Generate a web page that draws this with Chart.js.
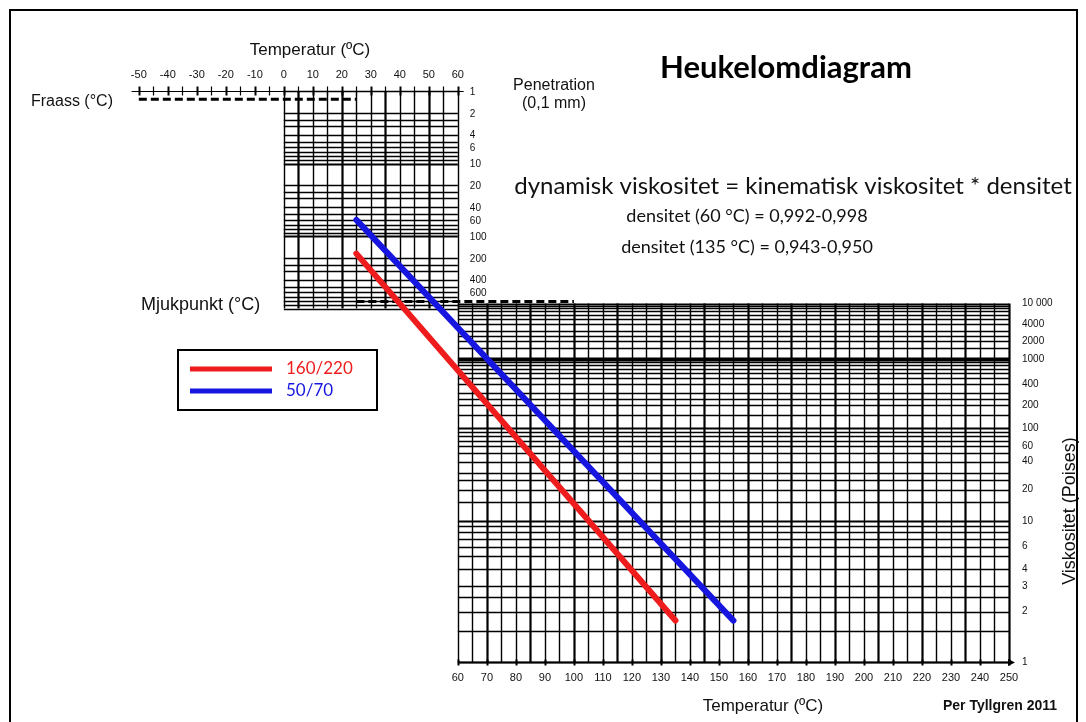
<!DOCTYPE html>
<html>
<head>
<meta charset="utf-8">
<title>Heukelomdiagram</title>
<script src="https://cdn.jsdelivr.net/npm/chart.js@4.4.1/dist/chart.umd.min.js"></script>
<style>
  html, body { margin: 0; padding: 0; background: #fff; }
  canvas { display: block; }
</style>
</head>
<body>
<canvas id="chart" width="1086" height="722"></canvas>
<script>
// bitumen grades drawn in the diagram
const grades = ["160/220", "50/70"];
const gradeColors = ["#ee1c1c", "#1616e0"];
const startTemp = [25, 25];      // °C, start point read on the penetration grid
const startPen = [175, 60];      // penetration (0,1 mm) at 25 °C
const endTemp = [135, 155];      // °C, end point read on the viscosity grid
const endVisc = [1.75, 1.75];    // Poises

// tick labels
const topTempTicks = [-50, -40, -30, -20, -10, 0, 10, 20, 30, 40, 50, 60];
const bottomTempTicks = [60, 70, 80, 90, 100, 110, 120, 130, 140, 150, 160, 170, 180, 190, 200, 210, 220, 230, 240, 250];
const penTicks = [1, 2, 4, 6, 10, 20, 40, 60, 100, 200, 400, 600];
const viscTicks = [1, 2, 3, 4, 6, 10, 20, 40, 60, 100, 200, 400, 1000, 2000, 4000, 10000];
const viscTickLabels = ["1", "2", "3", "4", "6", "10", "20", "40", "60", "100", "200", "400", "1000", "2000", "4000", "10 000"];

// grid lines inside each decade
const penSteps = [1, 2, 2.5, 3, 4, 5, 6, 7, 8, 9];
const viscSteps = [1, 1.5, 2, 2.5, 3, 4, 5, 6, 7, 8, 9];
const penDecades = [1, 10, 100];
const viscDecades = [1, 10, 100, 1000];

// dashed reference lines
const fraassTemp = [-50, 25];
const fraassPen = 1.3;
const mjukTemp = [25, 100];
const mjukPen = 800;

const ARIAL = "'Liberation Sans', Arial, sans-serif";
const CAL = "Lato, 'Open Sans', sans-serif";

// viscosity axis of the Heukelom chart: linear in log(log(v) + 1.5)
function hk(v) {
  return Math.log10(Math.log10(v) + 1.5);
}

function line(ctx, x1, y1, x2, y2, w) {
  ctx.lineWidth = w;
  ctx.beginPath();
  ctx.moveTo(x1, y1);
  ctx.lineTo(x2, y2);
  ctx.stroke();
}

const snap = p => Math.round(p) + 0.5;

const heukelomPlugin = {
  id: 'heukelom',
  beforeDraw(chart) {
    const { ctx, width, height } = chart;
    ctx.save();
    ctx.fillStyle = '#fff';
    ctx.fillRect(0, 0, width, height);
    ctx.restore();
  },
  beforeDatasetsDraw(chart) {
    const { ctx, scales: { x, yP, yV } } = chart;
    ctx.save();
    ctx.strokeStyle = '#000';
    ctx.fillStyle = '#000';

    // penetration grid (0-60 °C)
    const pTop = yP.getPixelForValue(1), pBot = yP.getPixelForValue(1000);
    for (let t = 0; t <= 60; t += 5) {
      const px = snap(x.getPixelForValue(t));
      line(ctx, px, pTop, px, pBot, t % 15 === 5 ? 2.2 : 1.4);
    }
    penDecades.forEach(d => penSteps.forEach(s => {
      const py = snap(yP.getPixelForValue(d * s));
      line(ctx, x.getPixelForValue(0), py, x.getPixelForValue(60), py, s === 1 && d > 1 ? 2.2 : 1.3);
    }));
    const pb = snap(pBot);
    line(ctx, x.getPixelForValue(0), pb, x.getPixelForValue(60), pb, 1.4);

    // top temperature axis
    const ta = snap(pTop);
    line(ctx, x.getPixelForValue(-52.5), ta, x.getPixelForValue(62), ta, 1.2);
    for (let t = -50; t <= 60; t += 5) {
      const px = snap(x.getPixelForValue(t));
      line(ctx, px, ta - 5, px, ta + 4, t % 10 === 0 ? 2 : 1.2);
    }

    // viscosity grid (60-250 °C)
    const vTop = yV.getPixelForValue(hk(10000)), vBot = yV.getPixelForValue(hk(1));
    for (let t = 60; t <= 250; t += 5) {
      const px = snap(x.getPixelForValue(t));
      line(ctx, px, vTop, px, vBot, t % 15 === 10 ? 2.2 : 1.4);
    }
    viscDecades.forEach(d => viscSteps.forEach(s => {
      const py = snap(yV.getPixelForValue(hk(d * s)));
      let w = 1.3;
      if (d * s === 1000) w = 4;
      else if (s === 1 && d > 1) w = 2.2;
      line(ctx, x.getPixelForValue(60), py, x.getPixelForValue(250), py, w);
    }));
    const vt = snap(vTop);
    line(ctx, x.getPixelForValue(60), vt, x.getPixelForValue(250), vt, 2);

    // bottom temperature axis with arrow
    const ba = snap(vBot);
    const bx0 = x.getPixelForValue(60), bx1 = x.getPixelForValue(250);
    line(ctx, bx0, ba, bx1 + 2, ba, 2);
    ctx.beginPath();
    ctx.moveTo(bx1 + 6, ba);
    ctx.lineTo(bx1 - 1, ba - 3.5);
    ctx.lineTo(bx1 - 1, ba + 3.5);
    ctx.closePath();
    ctx.fill();
    bottomTempTicks.forEach(t => {
      const px = snap(x.getPixelForValue(t));
      line(ctx, px, ba - 3, px, ba + 3, 2);
    });

    // Fraass and softening point dashed lines
    ctx.setLineDash([8, 4]);
    const fy = yP.getPixelForValue(fraassPen);
    line(ctx, x.getPixelForValue(fraassTemp[0]), fy, x.getPixelForValue(fraassTemp[1]), fy, 3);
    const my = yP.getPixelForValue(mjukPen);
    line(ctx, x.getPixelForValue(mjukTemp[0]), my, x.getPixelForValue(mjukTemp[1]), my, 3);
    ctx.setLineDash([]);
    ctx.restore();
  },
  afterDraw(chart) {
    const { ctx, scales: { x, yP } } = chart;
    ctx.save();
    ctx.textBaseline = 'middle';

    // penetration labels
    ctx.fillStyle = '#111';
    ctx.font = `10px ${ARIAL}`;
    ctx.textAlign = 'left';
    const lx = x.getPixelForValue(60) + 12;
    penTicks.forEach(v => ctx.fillText(String(v), lx, yP.getPixelForValue(v) + 1));

    ctx.fillStyle = '#111';
    ctx.textAlign = 'center';
    ctx.font = `17px ${ARIAL}`;
    ctx.fillText('Temperatur (ºC)', 310, 50);
    ctx.fillText('Temperatur (ºC)', 763, 706);
    ctx.font = `16px ${ARIAL}`;
    ctx.fillText('Penetration', 554, 86);
    ctx.fillText('(0,1 mm)', 554, 104);
    ctx.textAlign = 'left';
    ctx.fillText('Fraass (°C)', 31, 102);
    ctx.font = `18px ${ARIAL}`;
    ctx.fillText('Mjukpunkt (°C)', 141, 305);
    ctx.textAlign = 'center';
    ctx.font = `bold 14px ${ARIAL}`;
    ctx.fillText('Per Tyllgren 2011', 1000, 706);

    ctx.save();
    ctx.translate(1070, 511);
    ctx.rotate(-Math.PI / 2);
    ctx.font = `18px ${ARIAL}`;
    ctx.fillText('Viskositet (Poises)', 0, 0);
    ctx.restore();

    ctx.fillStyle = '#000';
    ctx.font = `bold 31px ${CAL}`;
    ctx.fillText('Heukelomdiagram', 786, 68);
    ctx.fillStyle = '#111';
    ctx.font = `24px ${CAL}`;
    ctx.fillText('dynamisk viskositet = kinematisk viskositet * densitet', 793, 186);
    ctx.font = `18px ${CAL}`;
    ctx.fillText('densitet (60 °C) = 0,992-0,998', 747, 216);
    ctx.fillText('densitet (135 °C) = 0,943-0,950', 747, 247);

    // legend box
    ctx.strokeStyle = '#000';
    ctx.lineWidth = 2;
    ctx.strokeRect(178, 350, 199, 60);
    ctx.textAlign = 'left';
    ctx.font = `17px ${CAL}`;
    chart.data.datasets.forEach((ds, i) => {
      const ly = 369 + i * 22;
      ctx.strokeStyle = ds.borderColor;
      line(ctx, 190, ly, 272, ly, 5);
      ctx.fillStyle = ds.borderColor;
      ctx.fillText(ds.label, 286, ly);
    });

    // outer frame
    ctx.strokeStyle = '#000';
    ctx.lineWidth = 2;
    ctx.strokeRect(10, 10, 1067, 730);
    ctx.restore();
  }
};

const tickFont = { family: ARIAL, size: 11 };

const chart = new Chart(document.getElementById('chart'), {
  type: 'line',
  data: {
    datasets: grades.map((g, i) => ({
      label: g,
      data: [],
      borderColor: gradeColors[i],
      borderWidth: 6,
      borderCapStyle: 'round',
      pointRadius: 0,
      fill: false,
      tension: 0,
      xAxisID: 'x',
      yAxisID: 'yV'
    }))
  },
  options: {
    responsive: false,
    animation: false,
    layout: { padding: { left: 133, top: 61, right: 0, bottom: 0 } },
    plugins: { legend: { display: false }, tooltip: { enabled: false } },
    scales: {
      x: {
        type: 'linear', position: 'bottom', min: -52, max: 250,
        grid: { display: false, drawTicks: false }, border: { display: false },
        ticks: { padding: 9, color: '#111', font: tickFont, autoSkip: false, maxRotation: 0 },
        afterBuildTicks: s => { s.ticks = bottomTempTicks.map(v => ({ value: v })); },
        afterFit: s => { s.height = 60; s.paddingLeft = 0; s.paddingRight = 0; }
      },
      xTop: {
        type: 'linear', position: 'top', min: -52, max: 250,
        grid: { display: false, drawTicks: false }, border: { display: false },
        ticks: { padding: 9, color: '#111', font: tickFont, autoSkip: false, maxRotation: 0 },
        afterBuildTicks: s => { s.ticks = topTempTicks.map(v => ({ value: v })); },
        afterFit: s => { s.height = 30; s.paddingLeft = 0; s.paddingRight = 0; }
      },
      yV: {
        type: 'linear', position: 'right', min: hk(1), max: 1.075,
        grid: { display: false, drawTicks: false }, border: { display: false },
        ticks: { padding: 13, color: '#111', font: { family: ARIAL, size: 10 }, autoSkip: false,
          callback: (v, i) => viscTickLabels[i] },
        afterBuildTicks: s => { s.ticks = viscTicks.map(v => ({ value: hk(v) })); },
        afterFit: s => { s.width = 77; s.paddingTop = 0; s.paddingBottom = 0; }
      },
      yP: {
        type: 'logarithmic', display: false, reverse: true, min: 1, max: 7.5e7
      }
    }
  },
  plugins: [heukelomPlugin]
});

// the 25 °C point is read on the penetration grid, the end point on the viscosity grid
const yP = chart.scales.yP, yV = chart.scales.yV;
chart.data.datasets.forEach((ds, i) => {
  ds.data = [
    { x: startTemp[i], y: yV.getValueForPixel(yP.getPixelForValue(startPen[i])) },
    { x: endTemp[i], y: hk(endVisc[i]) }
  ];
});
chart.update();
</script>
</body>
</html>
